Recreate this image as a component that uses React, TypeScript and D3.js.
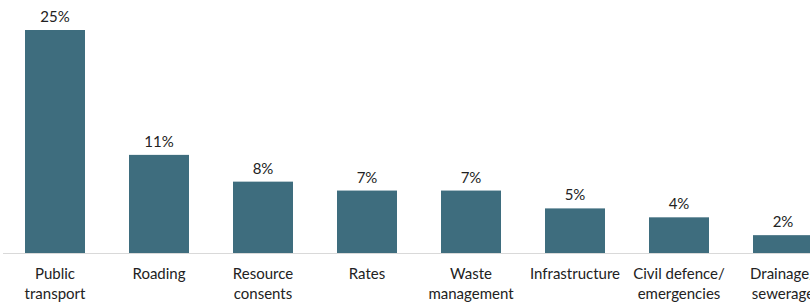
import React from "react";
import * as d3 from "d3";

const categories: string[][] = [
  ["Public", "transport"],
  ["Roading"],
  ["Resource", "consents"],
  ["Rates"],
  ["Waste", "management"],
  ["Infrastructure"],
  ["Civil defence/", "emergencies"],
  ["Drainage/", "sewerage"],
];
const values = [25, 11, 8, 7, 7, 5, 4, 2];
const keys = categories.map((c) => c.join(" "));

const W = 810;
const H = 305;
const baseline = 253;

export default function App() {
  const x = d3
    .scaleBand<string>()
    .domain(keys)
    .range([3, 835])
    .paddingInner(44 / 104)
    .paddingOuter(22 / 104);
  const y = d3.scaleLinear().domain([0, 25]).range([baseline, 30]);
  const font = "Lato, 'Noto Sans', sans-serif";
  return (
    <svg
      width={W}
      height={H}
      style={{ position: "absolute", left: 0, top: 0, display: "block" }}
      fontFamily={font}
    >
      <line x1={3} x2={W} y1={baseline + 0.5} y2={baseline + 0.5} stroke="#d9d9d9" strokeWidth={1} />
      {values.map((v, i) => {
        const k = keys[i];
        const bx = x(k)!;
        const cx = bx + x.bandwidth() / 2;
        return (
          <g key={k}>
            <rect x={bx} y={y(v)} width={x.bandwidth()} height={baseline - y(v)} fill="#3e6d7e" />
            <text x={cx} y={y(v) - 8} textAnchor="middle" fontSize={15} fill="#222">
              {v}%
            </text>
            {categories[i].map((line, j) => (
              <text key={j} x={cx} y={279 + j * 20} textAnchor="middle" fontSize={15} fill="#222">
                {line}
              </text>
            ))}
          </g>
        );
      })}
    </svg>
  );
}
